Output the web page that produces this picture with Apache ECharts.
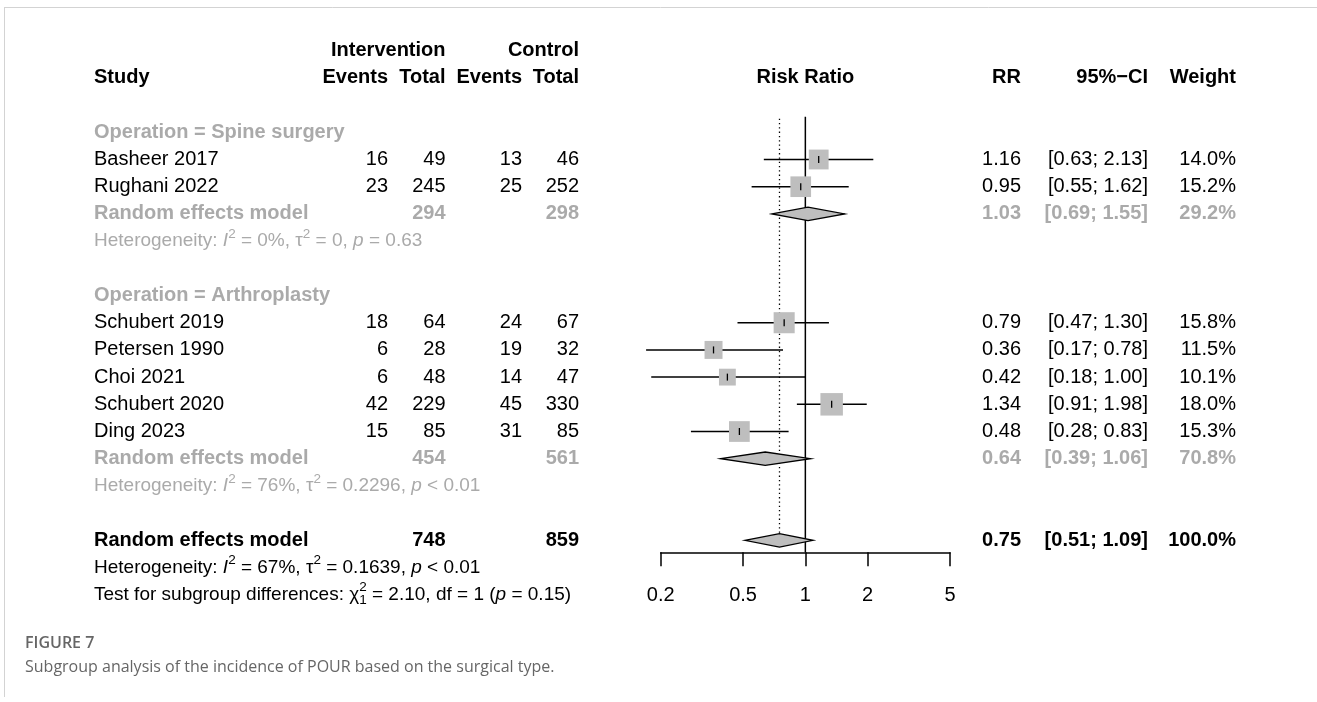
<!DOCTYPE html>
<html>
<head>
<meta charset="utf-8">
<script src="https://cdn.jsdelivr.net/npm/echarts@6/dist/echarts.min.js"></script>
<style>
html,body{margin:0;padding:0;background:#fff;}
#chart{width:1317px;height:702px;}
</style>
</head>
<body>
<div id="chart"></div>
<script>
// ---------------- data ----------------
const studies   = ['Basheer 2017','Rughani 2022','Schubert 2019','Petersen 1990','Choi 2021','Schubert 2020','Ding 2023'];
const studyGroup = [0,0,1,1,1,1,1];
const eventsI   = [16,23,18,6,6,42,15];
const totalI    = [49,245,64,28,48,229,85];
const eventsC   = [13,25,24,19,14,45,31];
const totalC    = [46,252,67,32,47,330,85];
const rr        = [1.16,0.95,0.79,0.36,0.42,1.34,0.48];
const rrLower   = [0.63,0.55,0.47,0.17,0.18,0.91,0.28];
const rrUpper   = [2.13,1.62,1.30,0.78,1.00,1.98,0.83];
const weight    = [14.0,15.2,15.8,11.5,10.1,18.0,15.3];

const groupNames   = ['Spine surgery','Arthroplasty'];
const groupTotalI  = [294,454];
const groupTotalC  = [298,561];
const groupRR      = [1.03,0.64];
const groupLower   = [0.69,0.39];
const groupUpper   = [1.55,1.06];
const groupWeight  = [29.2,70.8];
const groupI2      = ['0%','76%'];
const groupTau2    = ['0','0.2296'];
const groupP       = ['= 0.63','< 0.01'];

const overallTotalI = 748;
const overallTotalC = 859;
const overallRR     = 0.75;
const overallLower  = 0.51;
const overallUpper  = 1.09;
const overallWeight = 100.0;
const overallI2     = '67%';
const overallTau2   = '0.1639';
const overallP      = '< 0.01';
const testChi2      = '2.10';
const testDf        = '1';
const testP         = '= 0.15';

const tickValues = [0.2,0.5,1,2,5];

// ---------------- layout / style ----------------
const FAM = '"Liberation Sans", Arial, Helvetica, sans-serif';
const GRAY = '#aaaaaa';
const BLACK = '#000000';
const COL = {name:94, evI:388, totI:445.5, evC:522, totC:579, rr:1021, ci:1148, w:1236};
const STAT_SIZE = 19;
const L = v => Math.log10(v);

const mctx = document.createElement('canvas').getContext('2d');
function tw(t, font){ mctx.font = font; return mctx.measureText(t).width; }
function fnt(size, bold, italic){ return (italic?'italic ':'') + (bold?'bold ':'') + size + 'px ' + FAM; }

const fmt2 = v => v.toFixed(2);
const fmtCI = (a,b) => '[' + a.toFixed(2) + '; ' + b.toFixed(2) + ']';
const fmtW = v => v.toFixed(1) + '%';

// build table rows
const rows = [];
function cell(x, text, align, bold, color){ return {x, text:String(text), align, bold, color}; }
function hetParts(i2, tau2, p){
  return [{t:'Heterogeneity: '},{t:'I',it:1},{t:'2',sup:1},{t:' = '+i2+', '},{t:'\u03c4'},{t:'2',sup:1},{t:' = '+tau2+', '},{t:'p',it:1},{t:' '+p}];
}
rows.push({row:-3, cells:[cell(COL.totI,'Intervention','right',1,BLACK), cell(COL.totC,'Control','right',1,BLACK)]});
rows.push({row:-2, cells:[
  cell(COL.name,'Study','left',1,BLACK), cell(COL.evI,'Events','right',1,BLACK), cell(COL.totI,'Total','right',1,BLACK),
  cell(COL.evC,'Events','right',1,BLACK), cell(COL.totC,'Total','right',1,BLACK), {xv:0, text:'Risk Ratio', align:'center', bold:1, color:BLACK},
  cell(COL.rr,'RR','right',1,BLACK), cell(COL.ci,'95%\u2212CI','right',1,BLACK), cell(COL.w,'Weight','right',1,BLACK)]});
let r = 0;
groupNames.forEach((g, gi) => {
  rows.push({row:r++, cells:[cell(COL.name,'Operation = '+g,'left',1,GRAY)]});
  studies.forEach((s, i) => {
    if (studyGroup[i] !== gi) return;
    rows.push({row:r++, cells:[cell(COL.name,s,'left',0,BLACK), cell(COL.evI,eventsI[i],'right',0,BLACK), cell(COL.totI,totalI[i],'right',0,BLACK),
      cell(COL.evC,eventsC[i],'right',0,BLACK), cell(COL.totC,totalC[i],'right',0,BLACK),
      cell(COL.rr,fmt2(rr[i]),'right',0,BLACK), cell(COL.ci,fmtCI(rrLower[i],rrUpper[i]),'right',0,BLACK), cell(COL.w,fmtW(weight[i]),'right',0,BLACK)]});
  });
  rows.push({row:r++, cells:[cell(COL.name,'Random effects model','left',1,GRAY), cell(COL.totI,groupTotalI[gi],'right',1,GRAY), cell(COL.totC,groupTotalC[gi],'right',1,GRAY),
    cell(COL.rr,fmt2(groupRR[gi]),'right',1,GRAY), cell(COL.ci,fmtCI(groupLower[gi],groupUpper[gi]),'right',1,GRAY), cell(COL.w,fmtW(groupWeight[gi]),'right',1,GRAY)]});
  rows.push({row:r++, cells:[{x:COL.name, parts:hetParts(groupI2[gi],groupTau2[gi],groupP[gi]), color:GRAY}]});
  r++;
});
const overallRow = r;
rows.push({row:r++, cells:[cell(COL.name,'Random effects model','left',1,BLACK), cell(COL.totI,overallTotalI,'right',1,BLACK), cell(COL.totC,overallTotalC,'right',1,BLACK),
  cell(COL.rr,fmt2(overallRR),'right',1,BLACK), cell(COL.ci,fmtCI(overallLower,overallUpper),'right',1,BLACK), cell(COL.w,fmtW(overallWeight),'right',1,BLACK)]});
rows.push({row:r++, cells:[{x:COL.name, parts:hetParts(overallI2,overallTau2,overallP), color:BLACK}]});
rows.push({row:r++, cells:[{x:COL.name, parts:[{t:'Test for subgroup differences: '},{t:'\u03c7'},{t:'2',sup:1,stack:1},{t:testDf,sub:1},{t:' = '+testChi2+', df = '+testDf+' ('},{t:'p',it:1},{t:' '+testP+')'}], color:BLACK}]});

// plot marks
const studyRows = [];
rows.forEach(rw => { if (rw.cells[0].text && studies.indexOf(rw.cells[0].text) >= 0) studyRows[studies.indexOf(rw.cells[0].text)] = rw.row; });
const groupRows = [];
rows.forEach(rw => { if (rw.cells[0].text === 'Random effects model' && rw.row !== overallRow) groupRows.push(rw.row); });

const ciData = studies.map((s,i) => [L(rrLower[i]), L(rrUpper[i]), studyRows[i], L(rr[i]), weight[i]]);
const diamondData = groupNames.map((g,gi) => [L(groupLower[gi]), L(groupRR[gi]), L(groupUpper[gi]), groupRows[gi]])
  .concat([[L(overallLower), L(overallRR), L(overallUpper), overallRow]]);
const AXIS_ROW = 15.44;
const refData = [[0, -0.57, AXIS_ROW, 0], [L(overallRR), -0.5, overallRow, 1]];

function textEl(x, y, text, font, color, align){
  return {type:'text', x:x, y:y, style:{text:text, font:font, fill:color, align:align, verticalAlign:'middle'}};
}

const chart = echarts.init(document.getElementById('chart'), null, {renderer:'canvas'});
chart.setOption({
  animation:false,
  backgroundColor:'#fff',
  grid:{left:660.7, top:50.7, width:289.3, height:501.6},
  xAxis:{type:'value', position:'bottom', min:L(0.2), max:L(5),
    axisLine:{show:true, onZero:false, lineStyle:{color:'#000', width:1.5}},
    axisTick:{show:true, length:14, customValues:tickValues.map(L), lineStyle:{color:'#000', width:1.5}},
    axisLabel:{show:true, customValues:tickValues.map(L), margin:33, fontSize:20, fontFamily:FAM, color:'#000',
      formatter: v => String(Math.round(Math.pow(10, v)*10)/10)},
    splitLine:{show:false}},
  yAxis:{type:'value', inverse:true, min:-3, max:AXIS_ROW, show:false},
  graphic:[
    {type:'line', shape:{x1:4, y1:7.5, x2:1317, y2:7.5}, style:{stroke:'#d3d3d3', lineWidth:1}},
    {type:'line', shape:{x1:4.5, y1:7, x2:4.5, y2:697}, style:{stroke:'#d3d3d3', lineWidth:1}},
    {type:'text', x:25, y:643, style:{text:'FIGURE 7', font:'600 16px "Open Sans", sans-serif', fill:'#666', verticalAlign:'middle'}},
    {type:'text', x:25, y:667, style:{text:'Subgroup analysis of the incidence of POUR based on the surgical type.', font:'16px "Open Sans", sans-serif', fill:'#666', verticalAlign:'middle'}}
  ],
  series:[
    {type:'custom', name:'ref', clip:false, data:refData, silent:true,
      renderItem:(p, api) => {
        const a = api.coord([api.value(0), api.value(1)]);
        const b = api.coord([api.value(0), api.value(2)]);
        const dotted = api.value(3) === 1;
        return {type:'line', shape:{x1:a[0], y1:a[1], x2:b[0], y2:b[1]},
          style:{stroke:'#000', lineWidth:dotted?1.3:1.5, lineDash:dotted?[1.3,3]:null}};
      }},
    {type:'custom', name:'ci', clip:false, data:ciData, silent:true,
      renderItem:(p, api) => {
        const a = api.coord([api.value(0), api.value(2)]);
        const b = api.coord([api.value(1), api.value(2)]);
        const c = api.coord([api.value(3), api.value(2)]);
        const s = 5.3*Math.sqrt(api.value(4));
        return {type:'group', children:[
          {type:'line', shape:{x1:a[0], y1:a[1], x2:b[0], y2:b[1]}, style:{stroke:'#000', lineWidth:1.5}},
          {type:'rect', shape:{x:c[0]-s/2, y:c[1]-s/2, width:s, height:s}, style:{fill:'#bebebe'}},
          {type:'line', shape:{x1:c[0], y1:c[1]-3.5, x2:c[0], y2:c[1]+3.5}, style:{stroke:'#000', lineWidth:1.3}}
        ]};
      }},
    {type:'custom', name:'diamond', clip:false, data:diamondData, silent:true,
      renderItem:(p, api) => {
        const row = api.value(3);
        const a = api.coord([api.value(0), row]);
        const m = api.coord([api.value(1), row]);
        const b = api.coord([api.value(2), row]);
        const h = 6.7;
        return {type:'polygon', shape:{points:[[a[0],a[1]],[m[0],m[1]-h],[b[0],b[1]],[m[0],m[1]+h]]},
          style:{fill:'#bebebe', stroke:'#000', lineWidth:1.3}};
      }},
    {type:'custom', name:'table', clip:false, silent:true, data:rows.map(rw => [0, rw.row]),
      renderItem:(p, api) => {
        const spec = rows[p.dataIndex];
        const y = api.coord([0, spec.row])[1];
        const children = [];
        spec.cells.forEach(c => {
          if (c.parts) {
            let x = c.x;
            let pendingW = 0;
            c.parts.forEach(pt => {
              const small = pt.sup || pt.sub;
              const f = fnt(small ? 13.5 : STAT_SIZE, false, pt.it);
              const dy = pt.sup ? -7 : (pt.sub ? 6 : 0);
              children.push(textEl(x, y + dy, pt.t, f, c.color, 'left'));
              const w = tw(pt.t, f);
              if (pt.stack) { pendingW = w; }
              else { x += Math.max(w, pendingW); pendingW = 0; }
            });
          } else {
            const x = (c.xv !== undefined) ? api.coord([c.xv, spec.row])[0] : c.x;
            children.push(textEl(x, y, c.text, fnt(20, c.bold, false), c.color, c.align));
          }
        });
        return {type:'group', children:children};
      }}
  ]
});
</script>
</body>
</html>
